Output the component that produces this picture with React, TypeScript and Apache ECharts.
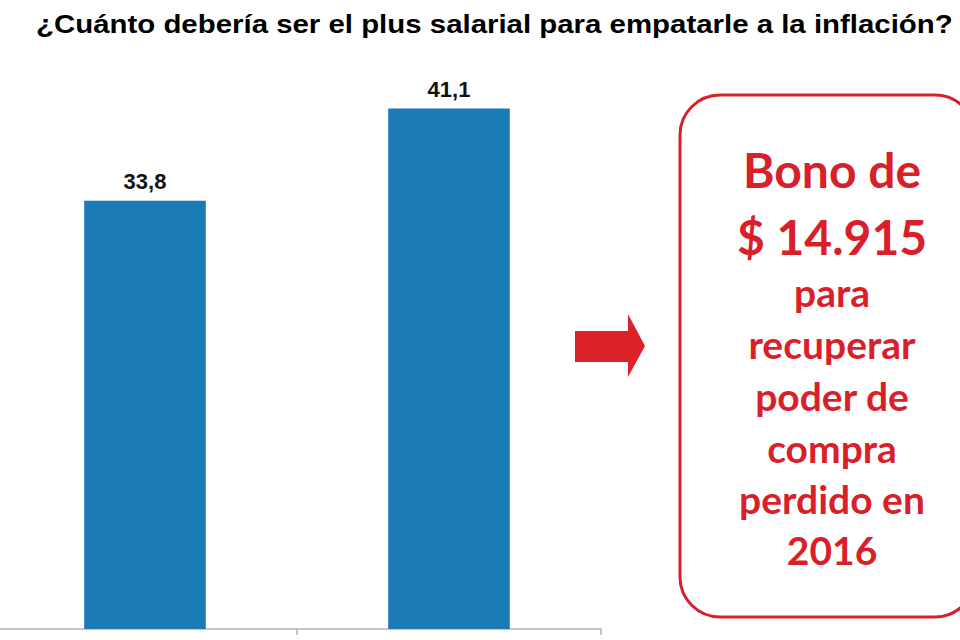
import React, { useEffect, useRef } from "react";
import * as echarts from "echarts";

const titleText = "¿Cuánto debería ser el plus salarial para empatarle a la inflación?";
const categories = ["A", "B"];
const values = [33.8, 41.1];
const valueLabels = ["33,8", "41,1"];
const boxBigLines = ["Bono de", "$ 14.915"];
const boxSmallLines = ["para", "recuperar", "poder de", "compra", "perdido en", "2016"];

const RED = "#d81f2a";
const BLUE = "#1b7bb6";

export default function App() {
  const ref = useRef<HTMLDivElement>(null);
  useEffect(() => {
    if (!ref.current) return;
    const chart = echarts.init(ref.current, undefined, { renderer: "svg" });
    const bigY = [169, 236];
    const smallY = [292, 344, 396, 448, 499, 550];
    const cx = 832;
    const graphics: any[] = [
      {
        type: "text",
        x: 36,
        y: 24,
        scaleX: 1.11,
        style: {
          text: titleText,
          font: "bold 26.5px 'Liberation Sans', Arial, sans-serif",
          fill: "#000",
          verticalAlign: "middle",
          align: "left",
        },
      },
      {
        type: "polygon",
        shape: {
          points: [
            [575, 331],
            [628, 331],
            [628, 314],
            [645, 346],
            [628, 377],
            [628, 362],
            [575, 362],
          ],
        },
        style: { fill: "#dc2229" },
      },
      {
        type: "rect",
        shape: { x: 680, y: 95, width: 295, height: 522, r: 40 },
        style: { fill: "none", stroke: RED, lineWidth: 3 },
      },
    ];
    boxBigLines.forEach((t, i) => {
      graphics.push({
        type: "text",
        x: cx,
        y: bigY[i],
        style: {
          text: t,
          font: "bold 48px Lato, 'Open Sans', sans-serif",
          fill: RED,
          align: "center",
          verticalAlign: "middle",
        },
      });
    });
    boxSmallLines.forEach((t, i) => {
      graphics.push({
        type: "text",
        x: cx,
        y: smallY[i],
        style: {
          text: t,
          font: "bold 39px Lato, 'Open Sans', sans-serif",
          fill: RED,
          align: "center",
          verticalAlign: "middle",
        },
      });
    });

    chart.setOption({
      animation: false,
      grid: {
        left: -7,
        width: 608,
        top: 59,
        bottom: 11,
        containLabel: false,
        outerBoundsMode: "none",
      },
      xAxis: {
        type: "category",
        data: categories,
        axisLine: { show: true, lineStyle: { color: "#b3b3b3", width: 1.5 } },
        axisTick: { show: true, length: 6, lineStyle: { color: "#b3b3b3", width: 1.5 } },
        axisLabel: { show: false },
      },
      yAxis: {
        type: "value",
        min: 0,
        max: 45,
        show: false,
        splitLine: { show: false },
      },
      series: [
        {
          type: "bar",
          data: values,
          barWidth: "40%",
          itemStyle: { color: BLUE },
          label: {
            show: true,
            position: "top",
            distance: 8,
            formatter: (p: any) => valueLabels[p.dataIndex],
            fontFamily: "'Liberation Sans', Arial, sans-serif",
            fontWeight: "bold",
            fontSize: 22,
            color: "#111",
          },
        },
      ],
      graphic: graphics,
    });
    return () => chart.dispose();
  }, []);
  return <div ref={ref} style={{ width: 960, height: 640, position: "absolute", left: 0, top: 0 }} />;
}
